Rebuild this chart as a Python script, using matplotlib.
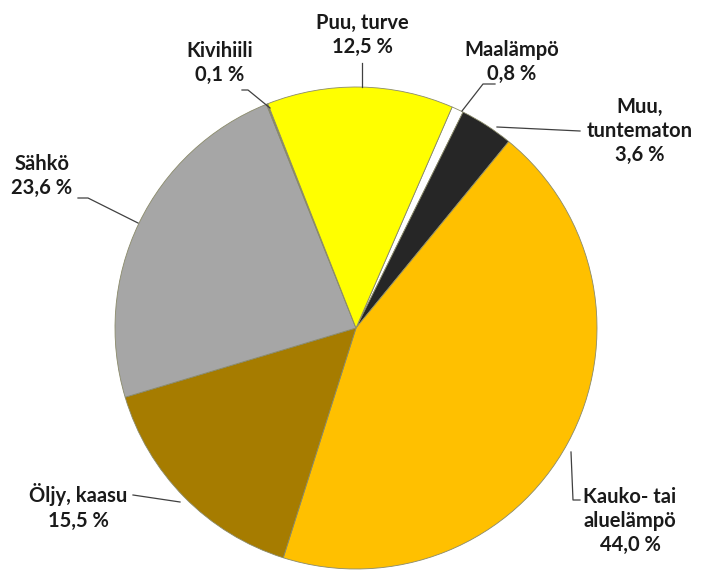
import matplotlib
matplotlib.use("Agg")
import matplotlib.pyplot as plt

labels = ["Maalämpö", "Muu,\ntuntematon", "Kauko- tai\naluelämpö", "Öljy, kaasu",
          "Sähkö", "Kivihiili", "Puu, turve"]
values = [0.8, 3.6, 44.0, 15.5, 23.6, 0.1, 12.5]
value_text = ["0,8 %", "3,6 %", "44,0 %", "15,5 %", "23,6 %", "0,1 %", "12,5 %"]
colors = ["#FFFFFF", "#262626", "#FFC000", "#A67C00", "#A6A6A6", "#7F7F7F", "#FFFF00"]

W, H = 701, 572
fig = plt.figure(figsize=(W / 100, H / 100), dpi=100)
ax = fig.add_axes([0, 0, 1, 1])

def Y(y):
    return H - y

cx, cy, r = 356, 328, 241
ax.pie(values, colors=colors, startangle=66.5, counterclock=False,
       center=(cx, Y(cy)), radius=r, frame=True,
       wedgeprops=dict(edgecolor="#8a8a6a", linewidth=0.6))
ax.set_xlim(0, W)
ax.set_ylim(0, H)
ax.set_aspect("equal")
ax.axis("off")

font = dict(family=["Lato", "DejaVu Sans"], fontweight="bold", fontsize=14.5,
            color="#1a1a1a", linespacing=1.25)

# label positions (center x, center y) in pixel coords
label_pos = {
    0: (512, 62),
    1: (640, 131),
    2: (630, 521),
    3: (78, 507),
    4: (42, 176),
    5: (220, 63),
    6: (362, 35),
}
for i, (x, y) in label_pos.items():
    txt = labels[i] + "\n" + value_text[i]
    ax.text(x, Y(y), txt, ha="center", va="center", **font)

lines = [
    [(495, 84), (483, 84), (462, 111)],      # Maalämpö
    [(497, 127), (580, 131)],                # Muu
    [(571, 452), (573, 500), (580, 500)],    # Kauko
    [(133, 495), (180, 502)],                # Öljy
    [(78, 198), (88, 198), (138, 223)],      # Sähkö
    [(242, 90), (248, 90), (270, 108)],      # Kivihiili
    [(362, 63), (362, 87)],                  # Puu
]
for pts in lines:
    xs = [p[0] for p in pts]
    ys = [Y(p[1]) for p in pts]
    ax.plot(xs, ys, color="#404040", linewidth=0.9)

fig.savefig("out.png", dpi=100)
